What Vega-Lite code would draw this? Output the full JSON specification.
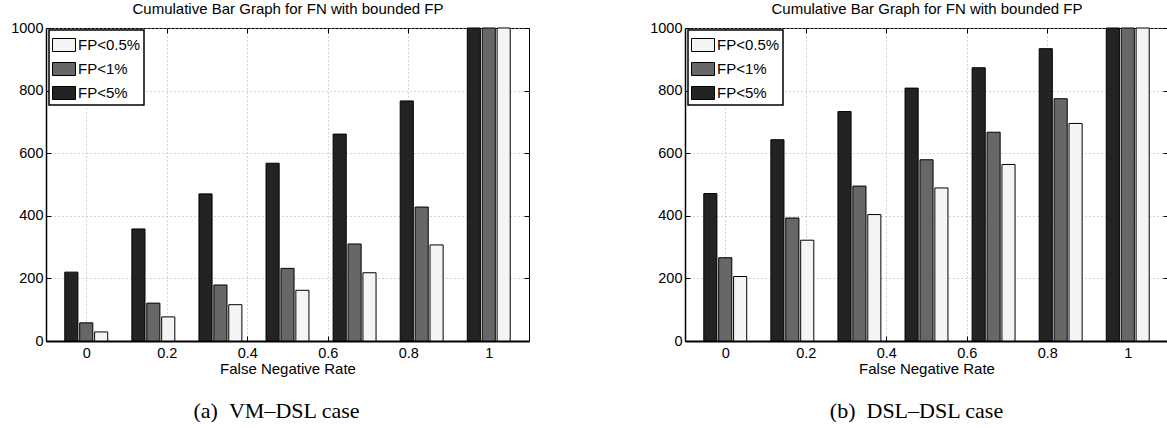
{
  "$schema": "https://vega.github.io/schema/vega-lite/v6.json",
  "padding": {"left": 10, "top": 1, "right": 0, "bottom": 0},
  "background": "white",
  "config": {
    "font": "Liberation Sans",
    "view": {"stroke": "black", "strokeWidth": 1},
    "concat": {"spacing": 119},
    "axis": {"labelColor": "black", "titleColor": "black", "titleFontWeight": "normal", "tickColor": "black", "domainColor": "black"}
  },
  "datasets": {
    "a": [
      {"fnr": 0, "series": "FP<5%", "count": 220},
      {"fnr": 0, "series": "FP<1%", "count": 58},
      {"fnr": 0, "series": "FP<0.5%", "count": 29},
      {"fnr": 0.1667, "series": "FP<5%", "count": 358},
      {"fnr": 0.1667, "series": "FP<1%", "count": 121},
      {"fnr": 0.1667, "series": "FP<0.5%", "count": 77},
      {"fnr": 0.3333, "series": "FP<5%", "count": 470},
      {"fnr": 0.3333, "series": "FP<1%", "count": 179},
      {"fnr": 0.3333, "series": "FP<0.5%", "count": 116},
      {"fnr": 0.5, "series": "FP<5%", "count": 568},
      {"fnr": 0.5, "series": "FP<1%", "count": 232},
      {"fnr": 0.5, "series": "FP<0.5%", "count": 162},
      {"fnr": 0.6667, "series": "FP<5%", "count": 661},
      {"fnr": 0.6667, "series": "FP<1%", "count": 310},
      {"fnr": 0.6667, "series": "FP<0.5%", "count": 218},
      {"fnr": 0.8333, "series": "FP<5%", "count": 767},
      {"fnr": 0.8333, "series": "FP<1%", "count": 428},
      {"fnr": 0.8333, "series": "FP<0.5%", "count": 307},
      {"fnr": 1, "series": "FP<5%", "count": 1000},
      {"fnr": 1, "series": "FP<1%", "count": 1000},
      {"fnr": 1, "series": "FP<0.5%", "count": 1000}
    ],
    "b": [
      {"fnr": 0, "series": "FP<5%", "count": 471},
      {"fnr": 0, "series": "FP<1%", "count": 266},
      {"fnr": 0, "series": "FP<0.5%", "count": 206},
      {"fnr": 0.1667, "series": "FP<5%", "count": 643},
      {"fnr": 0.1667, "series": "FP<1%", "count": 393},
      {"fnr": 0.1667, "series": "FP<0.5%", "count": 322},
      {"fnr": 0.3333, "series": "FP<5%", "count": 733},
      {"fnr": 0.3333, "series": "FP<1%", "count": 495},
      {"fnr": 0.3333, "series": "FP<0.5%", "count": 404},
      {"fnr": 0.5, "series": "FP<5%", "count": 808},
      {"fnr": 0.5, "series": "FP<1%", "count": 579},
      {"fnr": 0.5, "series": "FP<0.5%", "count": 489},
      {"fnr": 0.6667, "series": "FP<5%", "count": 873},
      {"fnr": 0.6667, "series": "FP<1%", "count": 667},
      {"fnr": 0.6667, "series": "FP<0.5%", "count": 564},
      {"fnr": 0.8333, "series": "FP<5%", "count": 934},
      {"fnr": 0.8333, "series": "FP<1%", "count": 774},
      {"fnr": 0.8333, "series": "FP<0.5%", "count": 695},
      {"fnr": 1, "series": "FP<5%", "count": 1000},
      {"fnr": 1, "series": "FP<1%", "count": 1000},
      {"fnr": 1, "series": "FP<0.5%", "count": 1000}
    ]
  },
  "hconcat": [
    {
      "width": 483,
      "height": 313,
      "data": {"name": "a"},
      "title": {"text": "(a)\u00a0\u00a0VM–DSL case", "orient": "bottom", "font": "Liberation Serif", "fontSize": 22, "fontWeight": "normal", "color": "black", "dx": -11, "offset": 24},
      "layer": [
        {
          "mark": {"type": "bar", "stroke": "black", "strokeWidth": 1},
          "encoding": {
            "x": {"field": "fnr", "type": "ordinal", "scale": {"paddingInner": 0.36, "paddingOuter": 0.28}, "axis": null},
            "xOffset": {"field": "series", "type": "nominal", "sort": ["FP<5%", "FP<1%", "FP<0.5%"], "scale": {"paddingInner": 0.12, "paddingOuter": 0}},
            "y": {"field": "count", "type": "quantitative", "scale": {"domain": [0, 1000], "nice": false},
              "axis": {"title": null, "values": [0, 200, 400, 600, 800, 1000], "format": "d", "grid": true, "gridDash": [1, 3], "gridColor": "#aaaaaa", "domainWidth": 1.5, "ticks": true, "tickSize": -5, "labelFontSize": 14.5, "labelPadding": 8}},
            "color": {"field": "series", "type": "nominal",
              "scale": {"domain": ["FP<0.5%", "FP<1%", "FP<5%"], "range": ["#f4f4f4", "#676767", "#232323"]},
              "legend": {"orient": "none", "legendX": 3, "legendY": 2, "title": null, "symbolType": "M-1,-0.565H1V0.565H-1Z", "symbolSize": 529, "symbolStrokeColor": "black", "symbolStrokeWidth": 1, "labelFontSize": 15, "labelColor": "black", "strokeColor": "black", "fillColor": "white", "padding": 3, "rowPadding": 3, "labelOffset": 2,
                "encode": {"legend": {"update": {"strokeWidth": {"value": 1.5}}}}}}
          }
        },
        {
          "mark": {"type": "point", "opacity": 0},
          "encoding": {
            "x": {"field": "fnr", "type": "quantitative", "scale": {"domain": [-0.1, 1.1], "nice": false, "zero": false},
              "axis": {"orient": "bottom", "title": "False Negative Rate", "values": [0, 0.2, 0.4, 0.6, 0.8, 1], "format": "~g", "grid": true, "gridDash": [1, 3], "gridColor": "#aaaaaa", "domainWidth": 2, "ticks": true, "tickSize": -5, "labelFontSize": 14.5, "labelPadding": 10, "titleFontSize": 15, "titlePadding": 2}},
            "y": {"field": "count", "type": "quantitative", "scale": {"domain": [0, 1000], "nice": false},
              "axis": {"orient": "right", "title": null, "labels": false, "grid": false, "domain": false, "values": [0, 200, 400, 600, 800, 1000], "ticks": true, "tickSize": -5}}
          }
        },
        {
          "mark": {"type": "point", "opacity": 0},
          "encoding": {
            "x": {"field": "fnr", "type": "quantitative", "scale": {"domain": [-0.1, 1.1], "nice": false, "zero": false},
              "axis": {"orient": "top", "title": "Cumulative Bar Graph for FN with bounded FP", "labels": false, "grid": false, "domain": false, "values": [0, 0.2, 0.4, 0.6, 0.8, 1], "ticks": true, "tickSize": -5, "titleFontSize": 15, "titlePadding": 11}},
            "y": {"field": "count", "type": "quantitative", "scale": {"domain": [0, 1000], "nice": false}, "axis": null}
          }
        }
      ],
      "resolve": {"scale": {"x": "independent", "y": "independent"}}
    },
    {
      "width": 483,
      "height": 313,
      "data": {"name": "b"},
      "title": {"text": "(b)\u00a0\u00a0DSL–DSL case", "orient": "bottom", "font": "Liberation Serif", "fontSize": 22, "fontWeight": "normal", "color": "black", "dx": -10, "offset": 24},
      "layer": [
        {
          "mark": {"type": "bar", "stroke": "black", "strokeWidth": 1},
          "encoding": {
            "x": {"field": "fnr", "type": "ordinal", "scale": {"paddingInner": 0.36, "paddingOuter": 0.28}, "axis": null},
            "xOffset": {"field": "series", "type": "nominal", "sort": ["FP<5%", "FP<1%", "FP<0.5%"], "scale": {"paddingInner": 0.12, "paddingOuter": 0}},
            "y": {"field": "count", "type": "quantitative", "scale": {"domain": [0, 1000], "nice": false},
              "axis": {"title": null, "values": [0, 200, 400, 600, 800, 1000], "format": "d", "grid": true, "gridDash": [1, 3], "gridColor": "#aaaaaa", "domainWidth": 1.5, "ticks": true, "tickSize": -5, "labelFontSize": 14.5, "labelPadding": 8}},
            "color": {"field": "series", "type": "nominal",
              "scale": {"domain": ["FP<0.5%", "FP<1%", "FP<5%"], "range": ["#f4f4f4", "#676767", "#232323"]},
              "legend": {"orient": "none", "legendX": 3, "legendY": 2, "title": null, "symbolType": "M-1,-0.565H1V0.565H-1Z", "symbolSize": 529, "symbolStrokeColor": "black", "symbolStrokeWidth": 1, "labelFontSize": 15, "labelColor": "black", "strokeColor": "black", "fillColor": "white", "padding": 3, "rowPadding": 3, "labelOffset": 2,
                "encode": {"legend": {"update": {"strokeWidth": {"value": 1.5}}}}}}
          }
        },
        {
          "mark": {"type": "point", "opacity": 0},
          "encoding": {
            "x": {"field": "fnr", "type": "quantitative", "scale": {"domain": [-0.1, 1.1], "nice": false, "zero": false},
              "axis": {"orient": "bottom", "title": "False Negative Rate", "values": [0, 0.2, 0.4, 0.6, 0.8, 1], "format": "~g", "grid": true, "gridDash": [1, 3], "gridColor": "#aaaaaa", "domainWidth": 2, "ticks": true, "tickSize": -5, "labelFontSize": 14.5, "labelPadding": 10, "titleFontSize": 15, "titlePadding": 2}},
            "y": {"field": "count", "type": "quantitative", "scale": {"domain": [0, 1000], "nice": false},
              "axis": {"orient": "right", "title": null, "labels": false, "grid": false, "domain": false, "values": [0, 200, 400, 600, 800, 1000], "ticks": true, "tickSize": -5}}
          }
        },
        {
          "mark": {"type": "point", "opacity": 0},
          "encoding": {
            "x": {"field": "fnr", "type": "quantitative", "scale": {"domain": [-0.1, 1.1], "nice": false, "zero": false},
              "axis": {"orient": "top", "title": "Cumulative Bar Graph for FN with bounded FP", "labels": false, "grid": false, "domain": false, "values": [0, 0.2, 0.4, 0.6, 0.8, 1], "ticks": true, "tickSize": -5, "titleFontSize": 15, "titlePadding": 11}},
            "y": {"field": "count", "type": "quantitative", "scale": {"domain": [0, 1000], "nice": false}, "axis": null}
          }
        }
      ],
      "resolve": {"scale": {"x": "independent", "y": "independent"}}
    }
  ],
  "resolve": {"scale": {"color": "independent"}, "legend": {"color": "independent"}}
}
